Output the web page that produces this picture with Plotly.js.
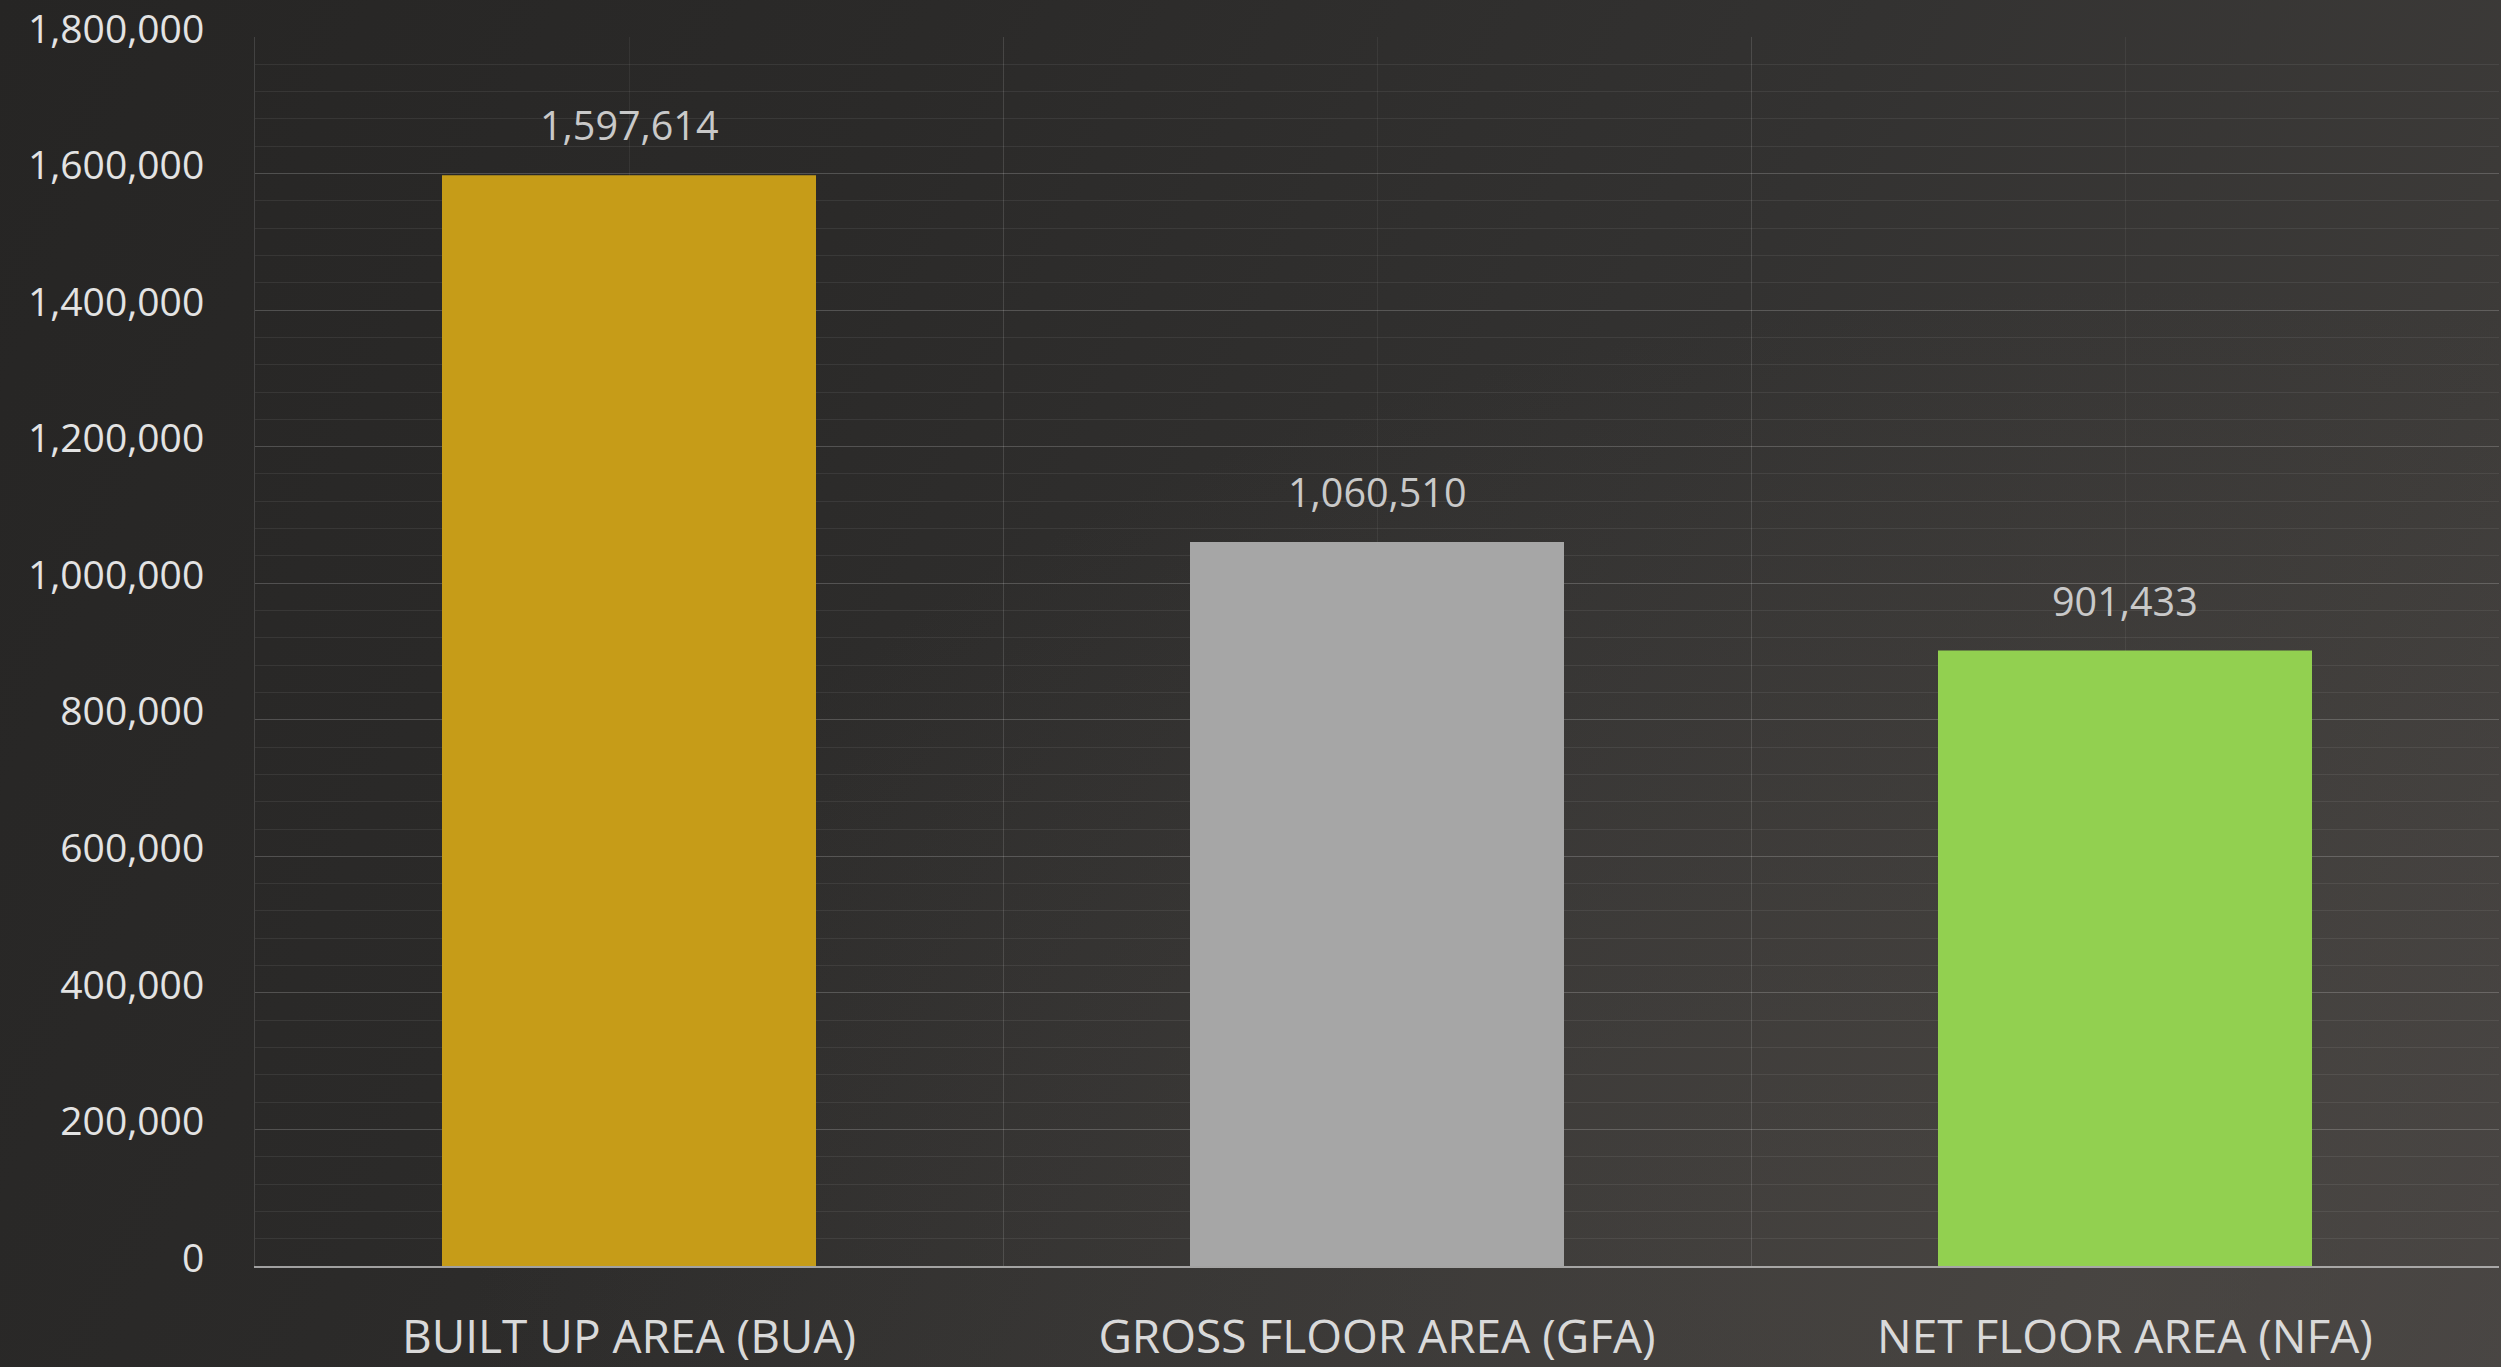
<!DOCTYPE html>
<html>
<head>
<meta charset="utf-8">
<script src="https://cdn.plot.ly/plotly-3.0.1.min.js"></script>
<style>
  html, body { margin: 0; padding: 0; width: 2501px; height: 1367px; overflow: hidden; }
  body {
    background:
      radial-gradient(ellipse at 85% 95%, rgba(80,76,72,0.55) 0%, rgba(80,76,72,0) 55%),
      linear-gradient(115deg, #262524 0%, #2b2a29 30%, #333231 60%, #3d3b39 85%, #444140 100%);
  }
  #chart { width: 2501px; height: 1367px; }
</style>
</head>
<body>
<div id="chart"></div>
<script>
// ---- data ----
const categories = ["BUILT UP AREA (BUA)", "GROSS FLOOR AREA (GFA)", "NET FLOOR AREA (NFA)"];
const areaValues = [1597614, 1060510, 901433];
const barColors = ["#C69C18", "#A6A6A6", "#92D050"];
const yTickValues = [0, 200000, 400000, 600000, 800000, 1000000, 1200000, 1400000, 1600000, 1800000];

// ---- build ----
const positions = categories.map((c, i) => i);

const trace = {
  type: "bar",
  x: positions,
  y: areaValues,
  width: 0.5,
  marker: { color: barColors, line: { width: 0 } },
  hoverinfo: "x+y",
  showlegend: false
};

const valueLabels = areaValues.map((v, i) => ({
  x: positions[i],
  y: v,
  xref: "x",
  yref: "y",
  text: v.toLocaleString("en-US"),
  showarrow: false,
  yanchor: "middle",
  yshift: 50,
  font: { family: "Open Sans, sans-serif", size: 39.5, color: "#c9c9c9" }
}));

const layout = {
  width: 2501,
  height: 1367,
  paper_bgcolor: "rgba(0,0,0,0)",
  plot_bgcolor: "rgba(0,0,0,0)",
  margin: { l: 255, r: 2, t: 37, b: 101, pad: 0 },
  showlegend: false,
  xaxis: {
    type: "linear",
    range: [-0.5, 2.5],
    tickmode: "array",
    tickvals: positions,
    ticktext: categories,
    ticks: "",
    showgrid: true,
    gridcolor: "rgba(255,255,255,0.06)",
    gridwidth: 1,
    minor: {
      tickmode: "linear",
      tick0: -0.5,
      dtick: 1,
      showgrid: true,
      gridcolor: "rgba(255,255,255,0.13)",
      gridwidth: 1,
      ticks: ""
    },
    zeroline: false,
    showline: true,
    linecolor: "rgba(200,200,200,0.75)",
    linewidth: 2,
    layer: "above traces",
    ticklabelstandoff: 30,
    tickfont: { family: "Open Sans, sans-serif", size: 46, color: "#d9d9d9" },
    fixedrange: true
  },
  yaxis: {
    range: [0, 1800000],
    tickmode: "array",
    tickvals: yTickValues,
    tickformat: ",d",
    ticks: "",
    showgrid: true,
    gridcolor: "rgba(255,255,255,0.13)",
    gridwidth: 1,
    minor: {
      tickmode: "linear",
      tick0: 0,
      dtick: 40000,
      showgrid: true,
      gridcolor: "rgba(255,255,255,0.07)",
      gridwidth: 1,
      ticks: ""
    },
    zeroline: false,
    showline: true,
    linecolor: "rgba(255,255,255,0.13)",
    linewidth: 1,
    ticklabelstandoff: 42,
    ticklabelshift: -8,
    tickfont: { family: "Open Sans, sans-serif", size: 39, color: "#e3e3e3" },
    fixedrange: true
  },
  annotations: valueLabels
};

Plotly.newPlot("chart", [trace], layout, { displayModeBar: false, staticPlot: true });
</script>
</body>
</html>
